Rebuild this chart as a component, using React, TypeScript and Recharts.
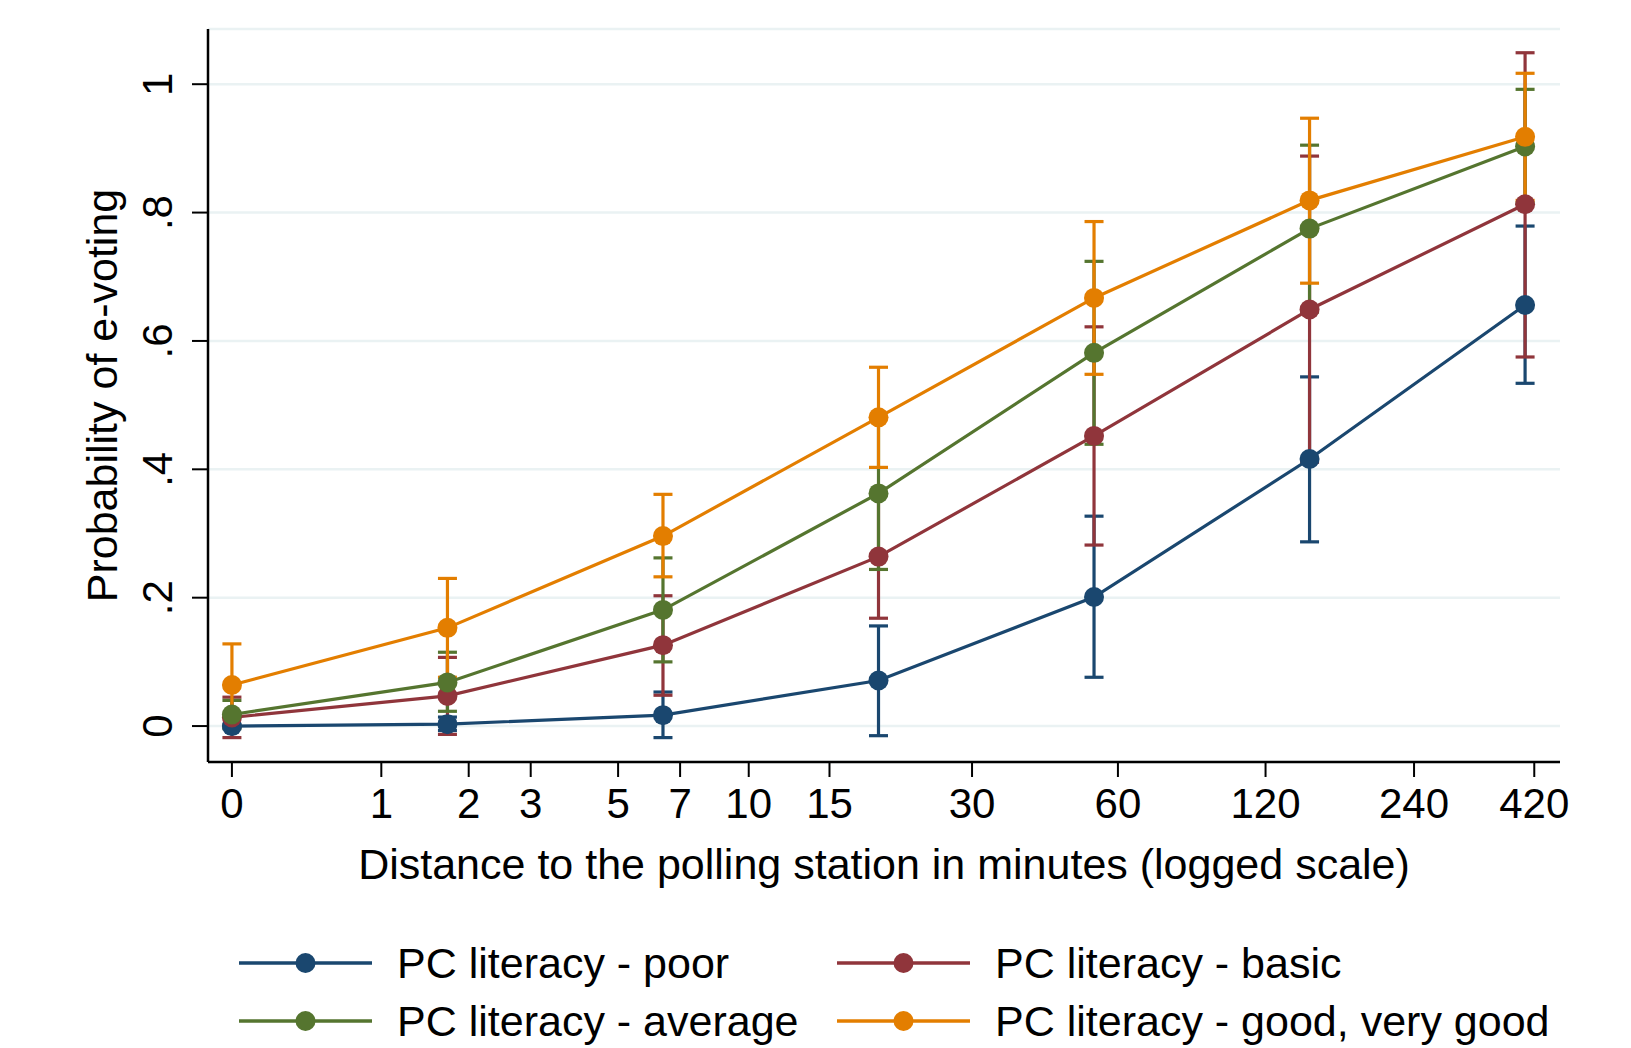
import React from "react";
import { CartesianGrid, ErrorBar, Label, Line, LineChart, XAxis, YAxis } from "recharts";

const FONT = '"Liberation Sans", Arial, Helvetica, sans-serif';

// x positions are ln(1 + minutes)
const loggedDistance = [0, 1, 2, 3, 4, 5, 6];
const distanceTicks = [0, 1, 2, 3, 5, 7, 10, 15, 30, 60, 120, 240, 420];
const probTicks = [0, 0.2, 0.4, 0.6, 0.8, 1];
const probTickLabels = ["0", ".2", ".4", ".6", ".8", "1"];

const poor = [0.0, 0.003, 0.017, 0.071, 0.201, 0.416, 0.656];
const poorLow = [-0.002, -0.007, -0.018, -0.015, 0.076, 0.287, 0.534];
const poorHigh = [0.002, 0.014, 0.053, 0.156, 0.327, 0.544, 0.779];

const basic = [0.0135, 0.047, 0.126, 0.264, 0.452, 0.649, 0.813];
const basicLow = [-0.018, -0.013, 0.048, 0.168, 0.282, 0.411, 0.575];
const basicHigh = [0.045, 0.107, 0.203, 0.36, 0.622, 0.888, 1.049];

const average = [0.018, 0.068, 0.181, 0.3625, 0.5815, 0.775, 0.903];
const averageLow = [-0.004, 0.023, 0.1, 0.244, 0.439, 0.645, 0.815];
const averageHigh = [0.04, 0.115, 0.262, 0.481, 0.724, 0.905, 0.992];

const good = [0.064, 0.153, 0.296, 0.481, 0.667, 0.819, 0.918];
const goodLow = [0.0, 0.076, 0.2325, 0.403, 0.548, 0.69, 0.819];
const goodHigh = [0.128, 0.23, 0.361, 0.559, 0.786, 0.947, 1.017];

const series = [
  { key: "poor", name: "PC literacy - poor", color: "#1a476f", values: poor, low: poorLow, high: poorHigh },
  { key: "basic", name: "PC literacy - basic", color: "#90353b", values: basic, low: basicLow, high: basicHigh },
  { key: "average", name: "PC literacy - average", color: "#55752f", values: average, low: averageLow, high: averageHigh },
  { key: "good", name: "PC literacy - good, very good", color: "#e37e00", values: good, low: goodLow, high: goodHigh },
];

const data = loggedDistance.map((x, i) => {
  const row: Record<string, any> = { x };
  series.forEach((s) => {
    row[s.key] = s.values[i];
    row[s.key + "Ci"] = [s.values[i] - s.low[i], s.high[i] - s.values[i]];
  });
  return row;
});

const xTickPositions = distanceTicks.map((t) => Math.log1p(t));

const YTick = (props: any) => {
  const { x, y, payload } = props;
  const idx = probTicks.findIndex((t) => Math.abs(t - payload.value) < 1e-9);
  return (
    <text
      x={x}
      y={y}
      transform={`rotate(-90, ${x}, ${y})`}
      textAnchor="middle"
      fontSize={42}
      fontFamily={FONT}
      fill="#000"
    >
      {probTickLabels[idx]}
    </text>
  );
};

const legendRows = [
  [series[0], series[1]],
  [series[2], series[3]],
];

export default function App() {
  return (
    <div
      style={{
        position: "absolute",
        left: 0,
        top: 0,
        width: 1631,
        height: 1048,
        background: "#fff",
        fontFamily: FONT,
      }}
    >
      <LineChart
        width={1631}
        height={1048}
        data={data}
        margin={{ top: 29, right: 71, bottom: 156, left: 0 }}
      >
        <CartesianGrid vertical={false} stroke="#eaf2f3" strokeWidth={2.5} />
        <XAxis
          type="number"
          dataKey="x"
          domain={[-0.111, 6.162]}
          allowDataOverflow
          ticks={xTickPositions}
          interval={0}
          tickFormatter={(_v, i) => String(distanceTicks[i])}
          height={130}
          tickSize={15}
          tickMargin={11}
          axisLine={{ stroke: "#000", strokeWidth: 2.5 }}
          tickLine={{ stroke: "#000", strokeWidth: 2 }}
          tick={{ fontSize: 42, fill: "#000", fontFamily: FONT }}
        >
          <Label
            content={(p: any) => (
              <text
                x={p.viewBox.x + p.viewBox.width / 2}
                y={p.viewBox.y + 117}
                textAnchor="middle"
                fontSize={43}
                fontFamily={FONT}
                fill="#000"
              >
                Distance to the polling station in minutes (logged scale)
              </text>
            )}
          />
        </XAxis>
        <YAxis
          type="number"
          domain={[-0.056, 1.086]}
          allowDataOverflow
          ticks={probTicks}
          interval={0}
          width={208}
          tickSize={16}
          tickMargin={20}
          tick={<YTick />}
          axisLine={{ stroke: "#000", strokeWidth: 2.5 }}
          tickLine={{ stroke: "#000", strokeWidth: 2 }}
        >
          <Label
            content={(p: any) => {
              const lx = p.viewBox.x + 117;
              const ly = p.viewBox.y + p.viewBox.height / 2;
              return (
                <text
                  x={lx}
                  y={ly}
                  transform={`rotate(-90, ${lx}, ${ly})`}
                  textAnchor="middle"
                  fontSize={43}
                  fontFamily={FONT}
                  fill="#000"
                >
                  Probability of e-voting
                </text>
              );
            }}
          />
        </YAxis>
        {series.map((s) => (
          <Line
            key={s.key + "-ci"}
            dataKey={s.key}
            stroke="none"
            dot={false}
            activeDot={false}
            legendType="none"
            isAnimationActive={false}
          >
            <ErrorBar
              dataKey={s.key + "Ci"}
              direction="y"
              width={9.5}
              stroke={s.color}
              strokeWidth={3.2}
              isAnimationActive={false}
            />
          </Line>
        ))}
        {series.map((s) => (
          <Line
            key={s.key}
            dataKey={s.key}
            name={s.name}
            stroke={s.color}
            strokeWidth={3.2}
            dot={{ r: 10, fill: s.color, stroke: s.color, strokeWidth: 0 }}
            activeDot={false}
            isAnimationActive={false}
          />
        ))}
      </LineChart>
      <div style={{ position: "absolute", left: 239, top: 934 }}>
        {legendRows.map((row, r) => (
          <div key={r} style={{ display: "flex", height: 58 }}>
            {row.map((s) => (
              <div
                key={s.key}
                style={{ display: "flex", alignItems: "center", width: 598, height: 58 }}
              >
                <svg width={133} height={24} style={{ flex: "none" }}>
                  <line x1={0} y1={12} x2={133} y2={12} stroke={s.color} strokeWidth={3.5} />
                  <circle cx={66.5} cy={12} r={10} fill={s.color} />
                </svg>
                <span style={{ marginLeft: 25, fontSize: 43, color: "#000", whiteSpace: "nowrap" }}>
                  {s.name}
                </span>
              </div>
            ))}
          </div>
        ))}
      </div>
    </div>
  );
}
